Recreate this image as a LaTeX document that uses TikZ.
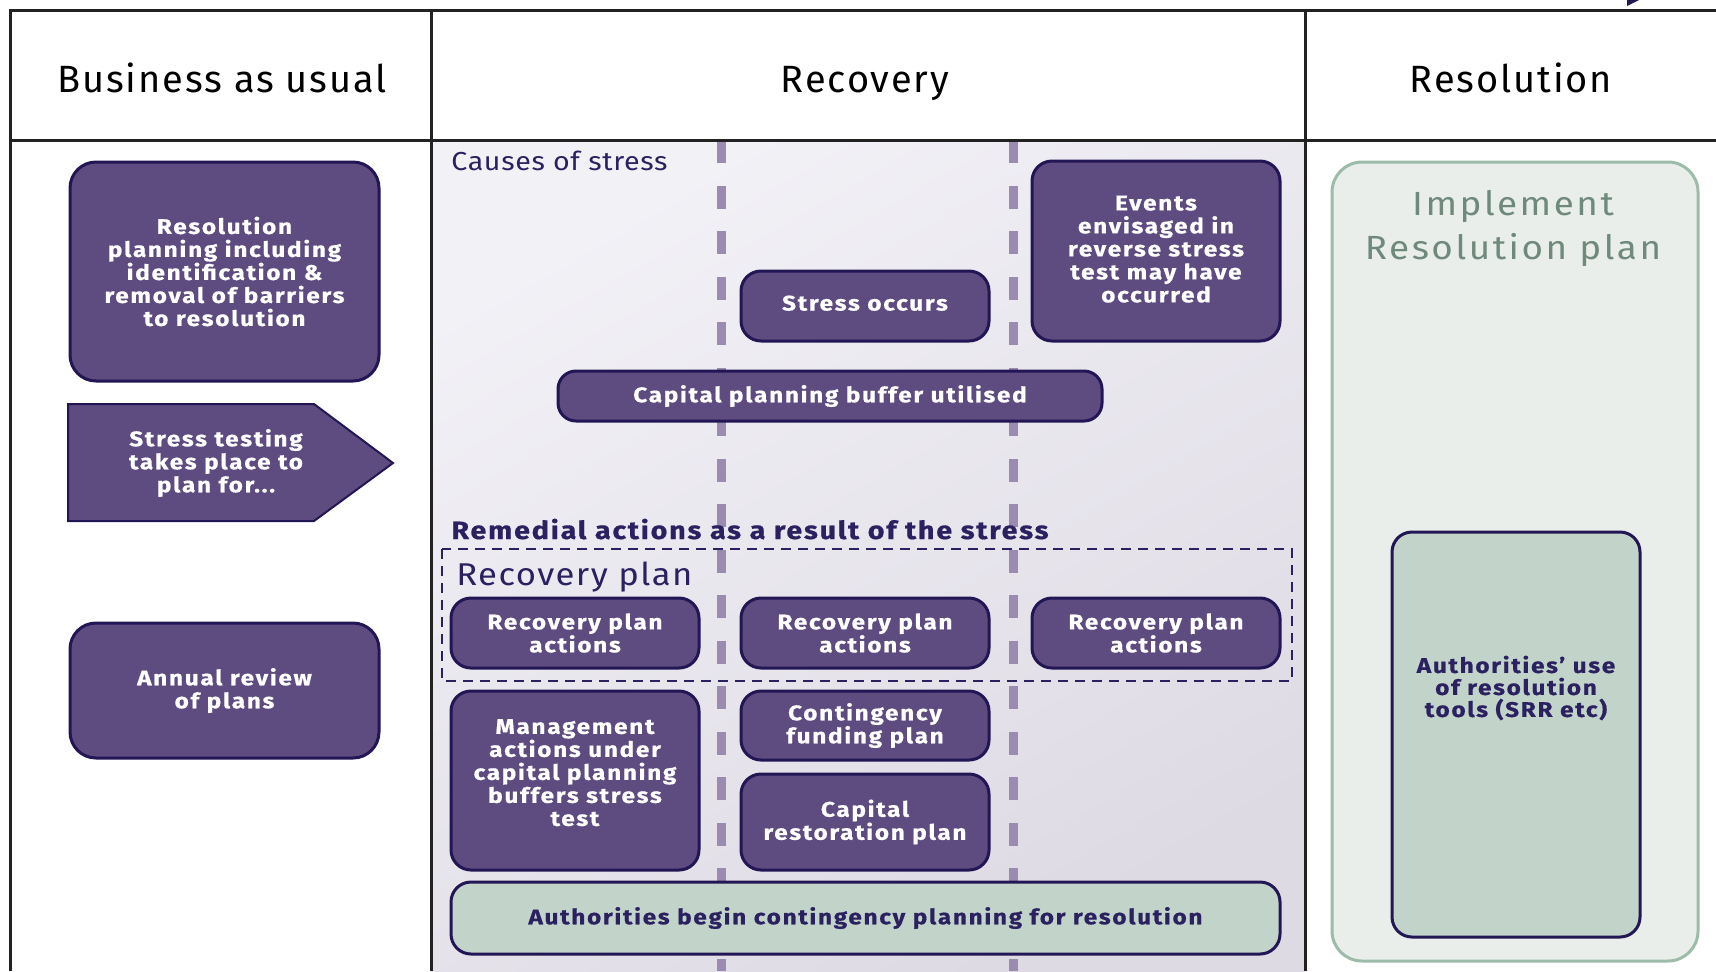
\documentclass[tikz,border=0pt]{standalone}
\usepackage{fontspec}
\setmainfont{Fira Sans}
\definecolor{boxpurple}{HTML}{5E4B7F}
\definecolor{navy}{HTML}{231654}
\definecolor{inknavy}{HTML}{2B2160}
\definecolor{guidelav}{HTML}{9B8BB1}
\definecolor{sage}{HTML}{C2D4CA}
\definecolor{sagelight}{HTML}{E9EEEA}
\definecolor{sageedge}{HTML}{9DBBA9}
\definecolor{sagetext}{HTML}{6F8A7D}
\definecolor{gridline}{HTML}{222222}
\definecolor{recoverytop}{HTML}{F2F1F6}
\definecolor{recoverybottom}{HTML}{DEDAE4}
% widened, tracked faces used across the chart
\newcommand{\boxfont}{\fontsize{10.6}{11.5}\selectfont\bfseries\addfontfeature{FakeStretch=1.15,LetterSpace=8,FakeBold=0.6}\lineskiplimit=-\maxdimen}
\newcommand{\headfont}{\fontsize{19}{22}\selectfont\addfontfeature{LetterSpace=5}}
\begin{document}
\begin{tikzpicture}[x=0.5pt,y=-0.5pt,
  grid/.style={draw=gridline,line width=1.5pt},
  guide/.style={draw=guidelav,line width=4.5pt,dash pattern=on 11.5pt off 11.25pt},
  header/.style={font=\headfont,text=black,anchor=base,inner sep=0pt},
  purplebox/.style={draw=navy,fill=boxpurple,line width=1.5pt,rounded corners=10pt,
    text=white,font=\boxfont,align=center,inner sep=0pt},
  sagebox/.style={draw=navy,fill=sage,line width=1.5pt,rounded corners=10pt,
    text=inknavy,font=\boxfont,align=center,inner sep=0pt},
  caption/.style={text=inknavy,anchor=base west,inner sep=0pt}
]
\useasboundingbox (0,0) rectangle (1716,971);
\fill[white] (0,0) rectangle (1716,971);

% shaded recovery column
\shade[top color=recoverytop,bottom color=recoverybottom,shading angle=30]
  (431,140) rectangle (1305,971);

% dashed phase guides
\draw[guide] (721,140) -- (721,971);
\draw[guide] (1013,140) -- (1013,971);

% table rules
\draw[grid] (10,971) -- (10,10) -- (1716,10);
\draw[grid] (10,140) -- (1716,140);
\draw[grid] (431,10) -- (431,971);
\draw[grid] (1305,10) -- (1305,971);
\fill[navy] (1627,0) -- (1639,0) -- (1627,6) -- cycle;

% column headings
\node[header] (hbau) at (222,92) {Business as usual};
\node[header] (hrec) at (865,92) {Recovery};
\node[header] (hres) at (1511,92) {Resolution};

% business as usual column
\node[purplebox,rounded corners=13pt,minimum width=154.5pt,minimum height=109.5pt] (resplan) at (224.5,271.5)
  {Resolution\\planning including\\identification \&\\removal of barriers\\to resolution};
\draw[draw=navy,fill=boxpurple,line width=1pt] (68,404) -- (314,404) -- (393,463) -- (314,521) -- (68,521) -- cycle;
\node[text=white,font=\boxfont,align=center,inner sep=0pt] (stresstest) at (216,463)
  {Stress testing\\takes place to\\plan for...};
\node[purplebox,rounded corners=13pt,minimum width=154.5pt,minimum height=67.5pt] (annual) at (224.5,690.5)
  {Annual review\\of plans};

% recovery column
\node[caption,font=\fontsize{13}{15}\selectfont\addfontfeature{FakeStretch=1.1,LetterSpace=2.5}] (causes) at (451,170) {Causes of stress};
\node[purplebox,minimum width=124pt,minimum height=35pt,text depth=3pt] (stress) at (865,306) {Stress occurs};
\node[purplebox,minimum width=124pt,minimum height=90pt,text depth=2pt] (events) at (1156,251)
  {Events\\envisaged in\\reverse stress\\test may have\\occurred};
\node[purplebox,minimum width=272pt,minimum height=25pt,rounded corners=9pt] (buffer) at (830,396)
  {Capital planning buffer utilised};
\node[caption,font=\fontsize{12.5}{16}\selectfont\bfseries\addfontfeature{FakeStretch=1.15,LetterSpace=7,FakeBold=0.6}] (remedial) at (451,539)
  {Remedial actions as a result of the stress};
\draw[draw=inknavy,line width=1.4pt,dash pattern=on 5pt off 3.5pt] (442,549) rectangle (1292,681);
\node[caption,font=\fontsize{15.75}{20}\selectfont\addfontfeature{FakeStretch=1.1,LetterSpace=4.5}] (rplan) at (456,585) {Recovery plan};
\node[purplebox,minimum width=124pt,minimum height=35pt] (rpa1) at (575,633) {Recovery plan\\actions};
\node[purplebox,minimum width=124pt,minimum height=35pt] (rpa2) at (865,633) {Recovery plan\\actions};
\node[purplebox,minimum width=124pt,minimum height=35pt] (rpa3) at (1156,633) {Recovery plan\\actions};
\node[purplebox,minimum width=124pt,minimum height=89.5pt,text depth=8pt] (mgmt) at (575,780.5)
  {Management\\actions under\\capital planning\\buffers stress\\test};
\node[purplebox,minimum width=124pt,minimum height=34.5pt] (cfp) at (865,725.5)
  {Contingency\\funding plan};
\node[purplebox,minimum width=124pt,minimum height=48pt] (crp) at (865,822)
  {Capital\\restoration plan};
\node[sagebox,minimum width=414.5pt,minimum height=36pt] (authbar) at (865.5,918)
  {Authorities begin contingency planning for resolution};

% resolution column
\node[draw=sageedge,fill=sagelight,line width=1.5pt,rounded corners=15pt,
  minimum width=183pt,minimum height=399.5pt,inner sep=0pt] (resouter) at (1515,561.5) {};
\node[text=sagetext,font=\fontsize{16.75}{22}\selectfont\addfontfeature{FakeStretch=1.1,LetterSpace=7.5},align=center,inner sep=0pt] (implement) at (1513,228)
  {Implement\\Resolution plan};
\node[sagebox,minimum width=124pt,minimum height=202.5pt] (resinner) at (1516,734.5) {};
\node[text=inknavy,font=\boxfont\fontsize{10.6}{11}\selectfont,align=center,inner sep=0pt] (tools) at (1516,688)
  {Authorities’ use\\of resolution\\tools (SRR etc)};
\end{tikzpicture}
\end{document}
